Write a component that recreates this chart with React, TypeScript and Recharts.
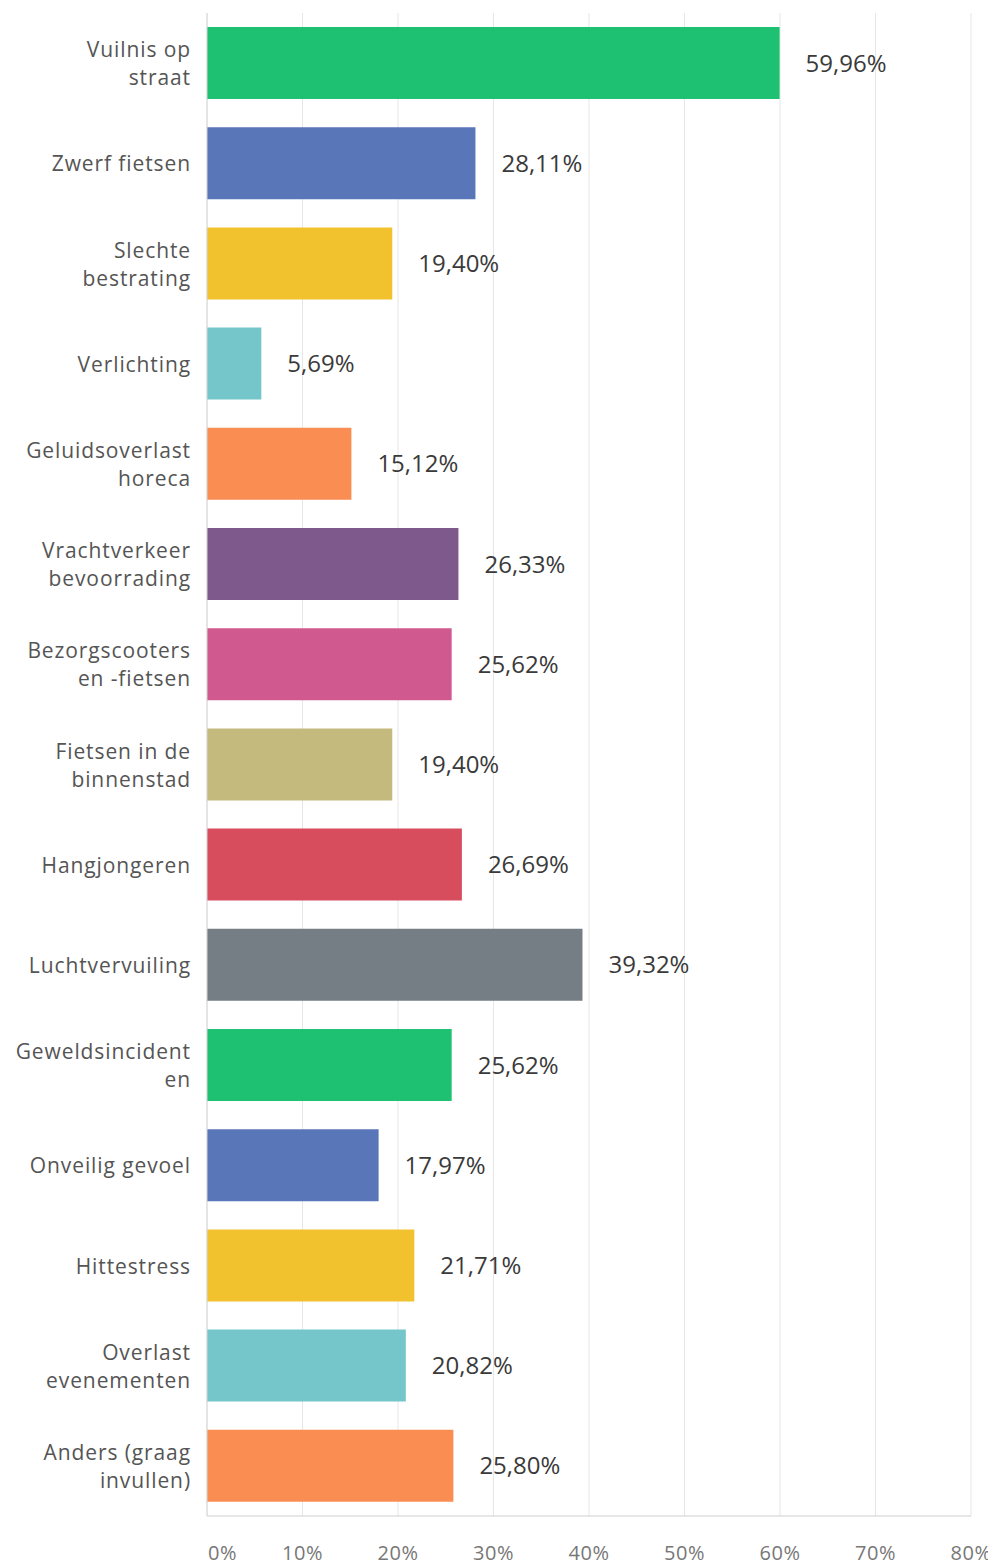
import { Bar, BarChart, CartesianGrid, Cell, LabelList, XAxis, YAxis } from 'recharts'

const categories = [
  'Vuilnis op\nstraat',
  'Zwerf fietsen',
  'Slechte\nbestrating',
  'Verlichting',
  'Geluidsoverlast\nhoreca',
  'Vrachtverkeer\nbevoorrading',
  'Bezorgscooters\nen -fietsen',
  'Fietsen in de\nbinnenstad',
  'Hangjongeren',
  'Luchtvervuiling',
  'Geweldsincident\nen',
  'Onveilig gevoel',
  'Hittestress',
  'Overlast\nevenementen',
  'Anders (graag\ninvullen)',
]

const values = [
  59.96, 28.11, 19.4, 5.69, 15.12, 26.33, 25.62, 19.4, 26.69, 39.32, 25.62,
  17.97, 21.71, 20.82, 25.8,
]

const colors = [
  '#1dc171',
  '#5876b8',
  '#f2c12e',
  '#74c6cb',
  '#fa8e52',
  '#7e5a8c',
  '#d05a90',
  '#c4ba7e',
  '#d84d5e',
  '#757e85',
  '#1dc171',
  '#5876b8',
  '#f2c12e',
  '#74c6cb',
  '#fa8e52',
]

const xTicks = [0, 10, 20, 30, 40, 50, 60, 70, 80]

const data = categories.map((name, i) => ({ name, value: values[i], color: colors[i] }))

const font = '"Open Sans", sans-serif'

function CategoryTick({ x, y, payload }: { x?: number; y?: number; payload?: { value: string } }) {
  const lines = String(payload?.value ?? '').split('\n')
  const lh = 28
  const start = -((lines.length - 1) * lh) / 2
  const tx = (x ?? 0) - 8
  return (
    <text
      x={tx}
      y={y}
      textAnchor="end"
      fontFamily={font}
      fontSize={21}
      fill="#555"
      letterSpacing={0.9}
    >
      {lines.map((l, i) => (
        <tspan key={i} x={tx} dy={i === 0 ? start : lh} dominantBaseline="central">
          {l}
        </tspan>
      ))}
    </text>
  )
}

function PercentTick({ x, y, payload }: { x?: number; y?: number; payload?: { value: number } }) {
  const v = payload?.value ?? 0
  return (
    <text
      x={v === 0 ? (x ?? 0) + 1 : x}
      y={(y ?? 0) + 28}
      textAnchor={v === 0 ? 'start' : 'middle'}
      dominantBaseline="central"
      fontFamily={font}
      fontSize={20}
      fill="#777"
      letterSpacing={0.5}
    >
      {v}%
    </text>
  )
}

export default function App() {
  return (
    <div style={{ position: 'absolute', left: 0, top: 0 }}>
      <BarChart
        width={988}
        height={1564}
        data={data}
        layout="vertical"
        margin={{ top: 13, right: 17, left: 0, bottom: 0 }}
      >
        <CartesianGrid horizontal={false} stroke="#e6e6e6" />
        <XAxis
          type="number"
          domain={[0, 80]}
          ticks={xTicks}
          height={48}
          tickLine={false}
          axisLine={{ stroke: '#cfcfcf' }}
          tick={<PercentTick />}
          interval={0}
        />
        <YAxis
          type="category"
          dataKey="name"
          width={207}
          tickLine={false}
          axisLine={{ stroke: '#d6d6d6' }}
          tick={<CategoryTick />}
          interval={0}
        />
        <Bar dataKey="value" barSize={72} isAnimationActive={false}>
          {data.map((d, i) => (
            <Cell key={i} fill={d.color} />
          ))}
          <LabelList
            dataKey="value"
            position="right"
            offset={26}
            formatter={(v: unknown) => `${Number(v).toFixed(2).replace('.', ',')}%`}
            fontFamily={font}
            fontSize={24}
            fill="#3a3a3a"
          />
        </Bar>
      </BarChart>
    </div>
  )
}
